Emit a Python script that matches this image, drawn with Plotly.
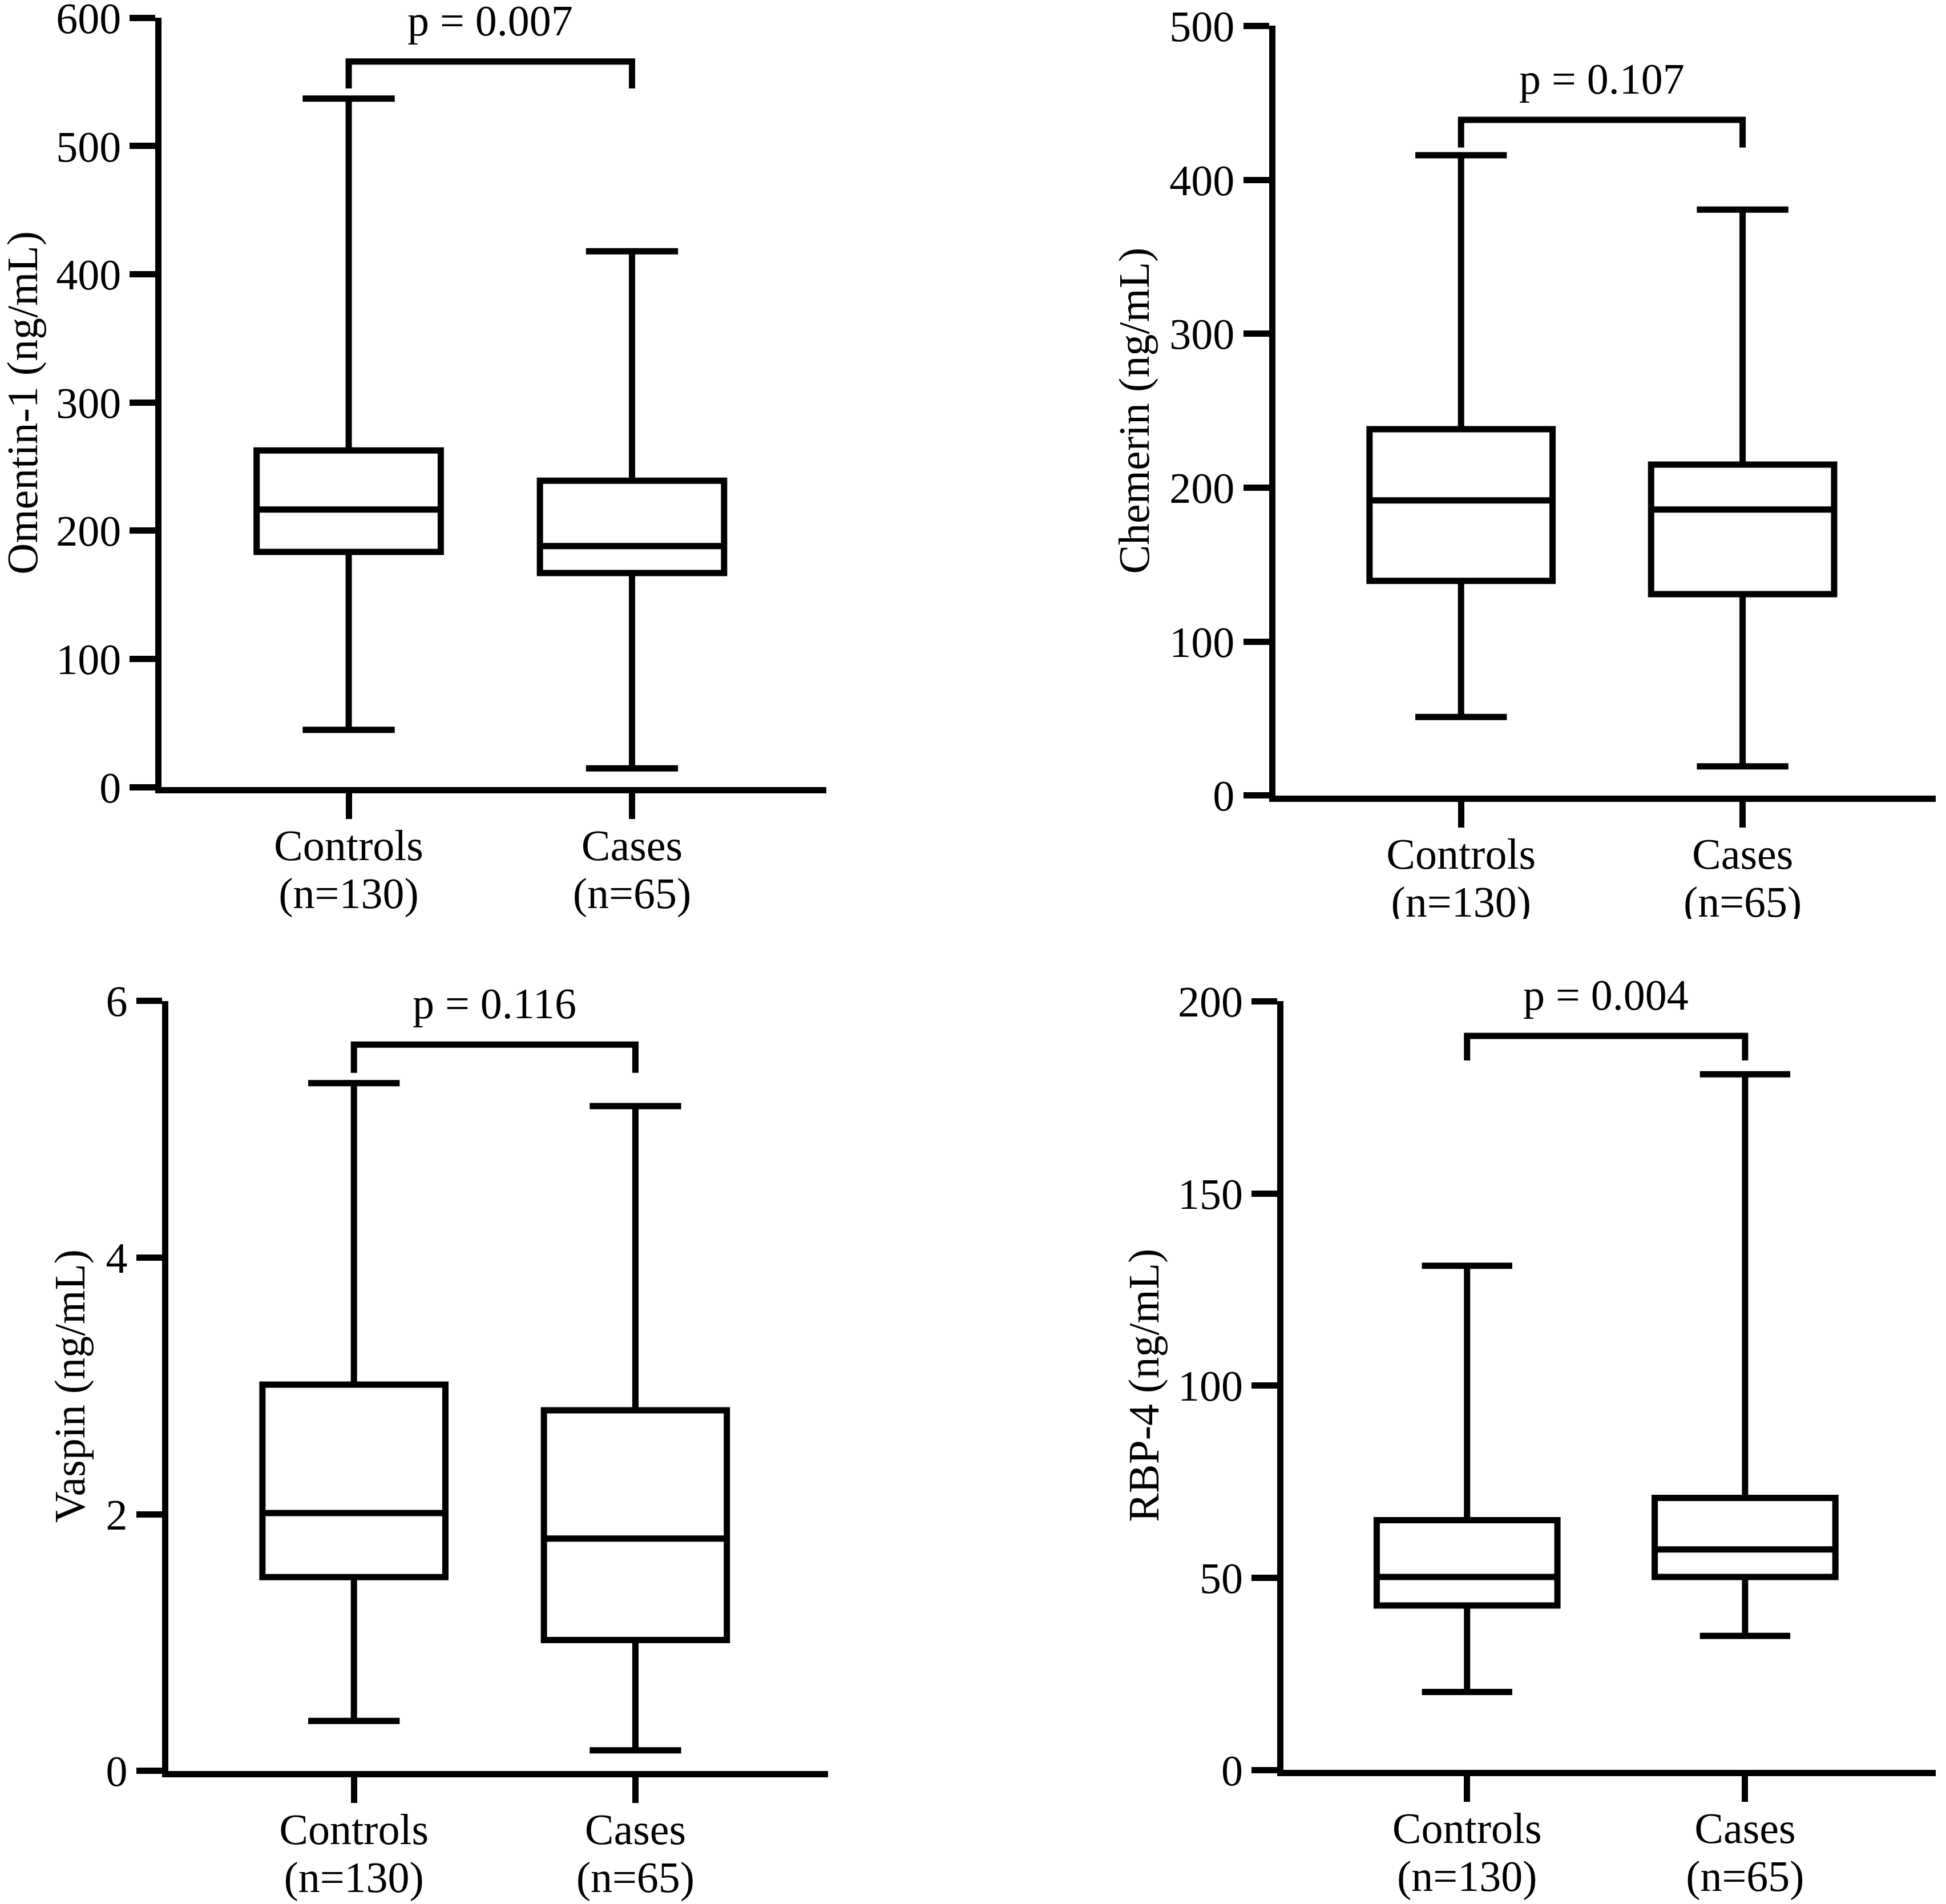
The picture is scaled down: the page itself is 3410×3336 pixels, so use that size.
import plotly.graph_objects as go

# groups and sample sizes
groups = ["Controls", "Cases"]
group_n = [130, 65]

# five-number summaries (min, q1, median, q3, max)
omentin_min = [44.7, 14.6]
omentin_q1 = [183.5, 167.0]
omentin_med = [216.5, 188.0]
omentin_q3 = [262.6, 239.0]
omentin_max = [537.0, 418.0]

chemerin_min = [51.0, 18.9]
chemerin_q1 = [139.4, 130.8]
chemerin_med = [191.7, 185.8]
chemerin_q3 = [238.0, 215.0]
chemerin_max = [416.0, 380.6]

vaspin_min = [0.39, 0.16]
vaspin_q1 = [1.51, 1.02]
vaspin_med = [2.01, 1.81]
vaspin_q3 = [3.01, 2.81]
vaspin_max = [5.36, 5.18]

rbp4_min = [20.3, 34.9]
rbp4_q1 = [42.8, 50.2]
rbp4_med = [50.2, 57.4]
rbp4_q3 = [65.0, 70.8]
rbp4_max = [131.2, 181.0]

# p values and bracket heights (bracket top, end of the legs)
p_texts = ["p = 0.007", "p = 0.107", "p = 0.116", "p = 0.004"]
bracket_top = [566, 439, 5.66, 191]
bracket_leg = [545, 421, 5.44, 184.6]

y_titles = ["Omentin-1 (ng/mL)", "Chemerin (ng/mL)", "Vaspin (ng/mL)", "RBP-4 (ng/mL)"]
y_ranges = [[0, 600], [0, 500], [0, 6], [0, 200]]
y_ticks = [[0, 100, 200, 300, 400, 500, 600],
           [0, 100, 200, 300, 400, 500],
           [0, 2, 4, 6],
           [0, 50, 100, 150, 200]]

panels = [
    (omentin_min, omentin_q1, omentin_med, omentin_q3, omentin_max),
    (chemerin_min, chemerin_q1, chemerin_med, chemerin_q3, chemerin_max),
    (vaspin_min, vaspin_q1, vaspin_med, vaspin_q3, vaspin_max),
    (rbp4_min, rbp4_q1, rbp4_med, rbp4_q3, rbp4_max),
]

FONT = "Liberation Serif, Times New Roman, serif"
FS = 76
LW = 11
XR = [-0.66, 1.685]
STANDOFF = -19     # first label line
LINE_GAP = 94      # extra standoff for the second label line

# panel placement in paper coords
x_domains = [[0.0831, 0.4245], [0.6553, 0.9946], [0.0864, 0.4256], [0.6596, 0.9946]]
y_domains = [[0.5866, 0.9906], [0.5822, 0.9864], [0.0699, 0.4743], [0.0704, 0.4741]]
title_x = [0.0115, 0.583, 0.036, 0.588]

n_labels = [f"(n={n})" for n in group_n]
positions = list(range(len(groups)))

fig = go.Figure()
layout = {}
annotations = []

for i, (mn, q1, med, q3, mx) in enumerate(panels):
    xa = "x" if i == 0 else f"x{i+1}"
    ya = "y" if i == 0 else f"y{i+1}"
    fig.add_trace(go.Box(
        x=groups, q1=q1, median=med, q3=q3, lowerfence=mn, upperfence=mx,
        width=0.65, whiskerwidth=0.5, boxpoints=False,
        line=dict(color="black", width=LW), fillcolor="white",
        xaxis=xa, yaxis=ya, showlegend=False, hoverinfo="skip",
    ))
    # significance bracket
    fig.add_trace(go.Scatter(
        x=[groups[0], groups[0], groups[1], groups[1]],
        y=[bracket_leg[i], bracket_top[i], bracket_top[i], bracket_leg[i]],
        mode="lines", line=dict(color="black", width=LW),
        cliponaxis=False, xaxis=xa, yaxis=ya, showlegend=False, hoverinfo="skip",
    ))
    # invisible trace so the overlaid label axis gets drawn
    fig.add_trace(go.Scatter(
        x=positions, y=[None] * len(positions), mode="markers",
        marker=dict(opacity=0), xaxis=f"x{i+5}", yaxis=ya,
        showlegend=False, hoverinfo="skip",
    ))
    annotations.append(dict(
        x=0.5, y=bracket_top[i], xref=xa, yref=ya, text=p_texts[i],
        xanchor="center", yanchor="middle", yshift=72,
        showarrow=False, font=dict(size=FS, family=FONT, color="black"),
    ))
    annotations.append(dict(
        x=title_x[i], y=sum(y_domains[i]) / 2, xref="paper", yref="paper",
        text=y_titles[i], textangle=-90, showarrow=False,
        xanchor="center", yanchor="middle",
        font=dict(size=FS, family=FONT, color="black"),
    ))

    key = "" if i == 0 else str(i + 1)
    layout["xaxis" + key] = dict(
        domain=x_domains[i], anchor=ya, type="category", range=XR,
        showline=True, linewidth=LW, linecolor="black",
        ticks="outside", ticklen=45, tickwidth=LW, tickcolor="black",
        tickfont=dict(size=FS, family=FONT, color="black"),
        ticklabelstandoff=STANDOFF,
        showgrid=False, zeroline=False, automargin=False,
    )
    layout["yaxis" + key] = dict(
        domain=y_domains[i], anchor=xa, range=y_ranges[i], tickvals=y_ticks[i],
        showline=True, linewidth=LW, linecolor="black",
        ticks="outside", ticklen=45, tickwidth=LW, tickcolor="black",
        tickfont=dict(size=FS, family=FONT, color="black"),
        ticklabeloverflow="allow",
        showgrid=False, zeroline=False, automargin=False,
    )
    # second line of the group labels on an overlaid axis
    layout[f"xaxis{i+5}"] = dict(
        overlaying=xa, anchor=ya, range=XR, tickvals=positions, ticktext=n_labels,
        ticks="outside", ticklen=45, tickwidth=LW, tickcolor="rgba(0,0,0,0)",
        tickfont=dict(size=FS, family=FONT, color="black"),
        ticklabelstandoff=STANDOFF + LINE_GAP,
        showline=False, showgrid=False, zeroline=False, automargin=False,
    )

fig.update_layout(
    width=3410, height=3336,
    margin=dict(l=0, r=0, t=0, b=0, autoexpand=False),
    paper_bgcolor="white", plot_bgcolor="white",
    font=dict(family=FONT, color="black"),
    annotations=annotations,
    # the top-right panel is cut off under its group labels
    shapes=[dict(type="rect", xref="paper", yref="paper", x0=0.5, x1=1.0,
                 y0=0.49, y1=0.5174, fillcolor="white", line=dict(width=0),
                 layer="above")],
    **layout,
)

fig.write_html("out.html", config={"displayModeBar": False},
               post_script="document.body.style.margin = '0';")
